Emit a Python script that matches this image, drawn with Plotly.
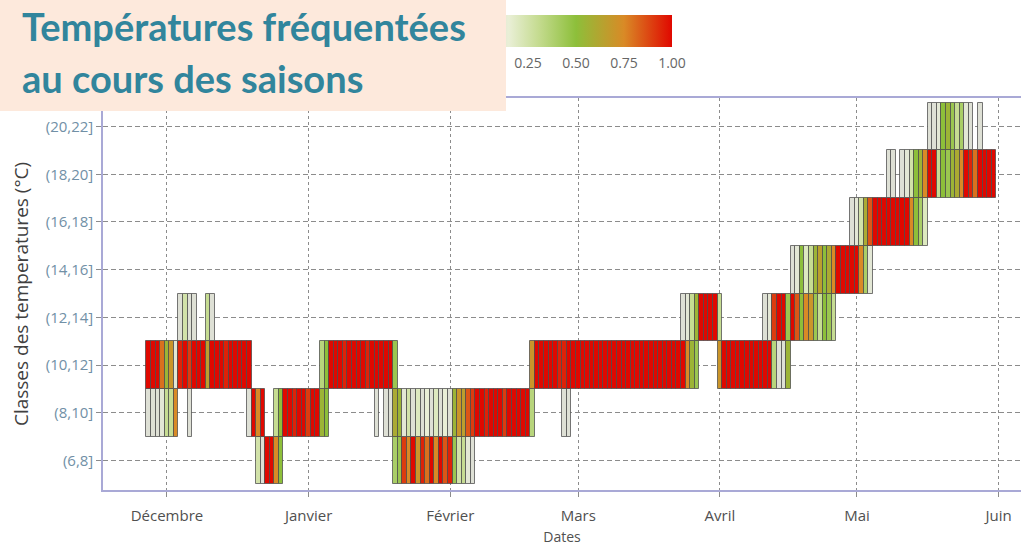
import plotly.graph_objects as go
import pandas as pd

# ---------------- data ----------------
classes = ["(6,8]", "(8,10]", "(10,12]", "(12,14]", "(14,16]", "(16,18]", "(18,20]", "(20,22]"]
origin = "2018-12-01"          # day 0
month_ticks = ["2018-12-01", "2019-01-01", "2019-02-01", "2019-03-01",
               "2019-04-01", "2019-05-01", "2019-06-01"]
month_labels = ["Décembre", "Janvier", "Février", "Mars", "Avril", "Mai", "Juin"]
cbar_ticks = [0.25, 0.50, 0.75, 1.00]
cbar_labels = ["0.25", "0.50", "0.75", "1.00"]

# (first day offset, daily share of time spent in the class)
seg_6_8 = [
    (20, [0.25, 0.05, 1, 1, 0.75, 0.5]),
    (50, [0.4, 0.45, 0.9, 0.75, 1, 0.7, 0.95, 0.8, 1, 0.75, 1, 0.85, 0.95,
          0.45, 0.25, 0.3, 0.1, 0.05]),
]
seg_8_10 = [
    (-4, [0.05, 0.05, 0.05, 0.1, 0.3, 0.3, 0.75]),
    (5, [0.05]),
    (18, [0.05, 1, 0.75, 1]),
    (24, [0.3, 0.5, 1, 1, 0.95, 1, 1, 0.9, 1, 1, 0.55, 0.5]),
    (46, [0.05, None, 0.05, 0.05, 0.6, 0.55, 0.1, 0.25, 0.05, 0.2, 0.05, 0.15,
          0.05, 0.2, 0.05, 0.15, 0.05, 0.55, 0.7, 0.65, 0.85, 0.9, 1, 1, 0.95,
          1, 1, 1, 0.9, 1, 1, 1, 1, 1, 0.35]),
    (87, [0.05, 0.05]),
]
seg_10_12 = [
    (-4, [1, 1, 1, 0.8, 0.55, 0.7, 0.1, 0.95, 1, 0.9, 1, 1, 1, 0.65, 1, 1,
          1, 0.95, 1, 1, 1, 1, 1]),
    (34, [0.35, 0.5, 1, 1, 1, 0.95, 1, 1, 1, 1, 0.95, 1, 1, 1, 1, 1, 0.45]),
    (80, [0.7, 1, 1, 1, 1, 1, 0.95, 0.95, 1, 1, 1, 1, 1, 1, 1, 1, 1, 1, 1,
          1, 1, 1, 1, 1, 1, 1, 1, 1, 1, 1, 1, 1, 1, 1, 0.75, 0.55, 0.45]),
    (121, [0.7, 1, 1, 1, 1, 1, 1, 1, 1, 1, 1, 1, 0.35, 0.05, 0.05, 0.55]),
]
seg_12_14 = [
    (3, [0.05, 0.25, 0.05, 0.05, None, None, 0.3, 0.05]),
    (113, [0.05, 0.1, 0.3, 0.55, 1, 1, 1, 1, 0.3]),
    (131, [0.05, 0.1, 0.9, 1, 1, 0.45, 1, 0.85, 0.5, 0.75, 0.7, 0.45, 0.3,
           0.5, 0.45, 0.3]),
]
seg_14_16 = [
    (137, [0.05, 0.1, 0.5, 0.2, 0.3, 0.55, 0.65, 0.5, 0.6, 0.75, 1, 1, 1,
           1, 1, 0.75, 0.4, 0.1]),
]
seg_16_18 = [
    (150, [0.05, 0.1, 0.25, 0.6, 0.85, 1, 1, 1, 1, 1, 1, 1, 1, 0.75, 0.5,
           0.4, 0.2]),
]
seg_18_20 = [
    (158, [0.05, 0.05, None, 0.05, 0.1, 0.25, 0.5, 0.55, 0.75, 1, 1, 0.3,
           0.5, 0.45, 0.55, 0.6, 0.75, 1, 0.95, 0.8, 1, 1, 1, 1]),
]
seg_20_22 = [
    (167, [0.05, 0.05, 0.1, 0.5, 0.55, 0.45, 0.3, 0.4, 0.1, 0.05, None, 0.05]),
]
all_segments = [seg_6_8, seg_8_10, seg_10_12, seg_12_14,
                seg_14_16, seg_16_18, seg_18_20, seg_20_22]

# ---------------- build tiles ----------------
t0 = pd.Timestamp(origin)
xs, bases, cols = [], [], []
for ci, segs in enumerate(all_segments):
    for start, vals in segs:
        for k, v in enumerate(vals):
            if v is None:
                continue
            xs.append(t0 + pd.Timedelta(days=start + k))
            bases.append(ci - 0.5)
            cols.append(v)

colorscale = [[0.0, "#d8d8d4"], [0.15, "#e9efd6"], [0.3, "#c6dc92"],
              [0.5, "#8dbf3a"], [0.75, "#d98a26"], [1.0, "#e00800"]]

W, H = 1021, 546
L, R, T, B = 103, 0, 98, 56
pw, ph = W - L - R, H - T - B


def px_x(p):
    return (p - L) / pw


def px_y(p):
    return (H - B - p) / ph


fig = go.Figure()
fig.add_trace(go.Bar(
    x=xs, y=[1] * len(xs), base=bases, width=86400000,
    marker=dict(
        color=cols, colorscale=colorscale, cmin=0, cmax=1,
        line=dict(color="rgba(75,75,75,0.75)", width=1),
        showscale=True,
        colorbar=dict(
            orientation="h", lenmode="pixels", len=192, thickness=32,
            x=px_x(480), xanchor="left", y=px_y(15), yanchor="top",
            xpad=0, ypad=0, outlinewidth=0,
            tickvals=cbar_ticks, ticktext=cbar_labels,
            ticks="outside", ticklen=5, tickcolor="white",
            tickfont=dict(family="Open Sans", size=14, color="#666"),
        ),
    ),
    hoverinfo="skip",
))

x_start = t0 - pd.Timedelta(days=14.0)
x_end = t0 + pd.Timedelta(days=186.9)

fig.update_layout(
    width=W, height=H,
    margin=dict(l=L, r=R, t=T, b=B, pad=0, autoexpand=False),
    paper_bgcolor="white", plot_bgcolor="white",
    barmode="overlay", showlegend=False, bargap=0,
    xaxis=dict(
        type="date", range=[x_start, x_end], automargin=False,
        tickvals=month_ticks, ticktext=month_labels,
        showgrid=True, gridcolor="#8c8c8c", griddash="3px,3px", gridwidth=1,
        showline=True, linecolor="#a9a9d6", linewidth=1.5, mirror=True,
        ticks="outside", ticklen=5, tickcolor="#8c8c8c", ticklabelstandoff=6,
        tickfont=dict(family="Open Sans", size=15, color="#505050"),
        title=dict(text="Dates", font=dict(family="Open Sans", size=14, color="#505050"),
                   standoff=14),
        zeroline=False,
    ),
    yaxis=dict(
        range=[-0.62, 7.6], automargin=False,
        tickvals=list(range(len(classes))), ticktext=classes,
        showgrid=True, gridcolor="#8c8c8c", griddash="5px,3px", gridwidth=1,
        showline=True, linecolor="#a9a9d6", linewidth=1.5, mirror=False,
        ticks="outside", ticklen=5, tickcolor="#8c8c8c",
        tickfont=dict(family="Open Sans", size=15, color="#7190a6"),
        title=dict(text="Classes des temperatures (°C)",
                   font=dict(family="Open Sans", size=19, color="#404040"),
                   standoff=12),
        zeroline=False,
    ),
    annotations=[
        dict(xref="paper", yref="paper", x=px_x(0), y=px_y(0),
             xanchor="left", yanchor="top", text=" ", showarrow=False,
             width=506, height=111, bgcolor="#fde9dc", borderpad=0, borderwidth=0),
        dict(xref="paper", yref="paper", x=px_x(20), y=px_y(26),
             xanchor="left", yanchor="middle", showarrow=False,
             text="<b>Températures fréquentées</b>",
             font=dict(family="Lato", size=38, color="#31859c")),
        dict(xref="paper", yref="paper", x=px_x(20), y=px_y(78),
             xanchor="left", yanchor="middle", showarrow=False,
             text="<b>au cours des saisons</b>",
             font=dict(family="Lato", size=38, color="#31859c")),
    ],
)

fig.write_html("out.html", config={"displayModeBar": False},
               post_script="document.body.style.margin='0';")
